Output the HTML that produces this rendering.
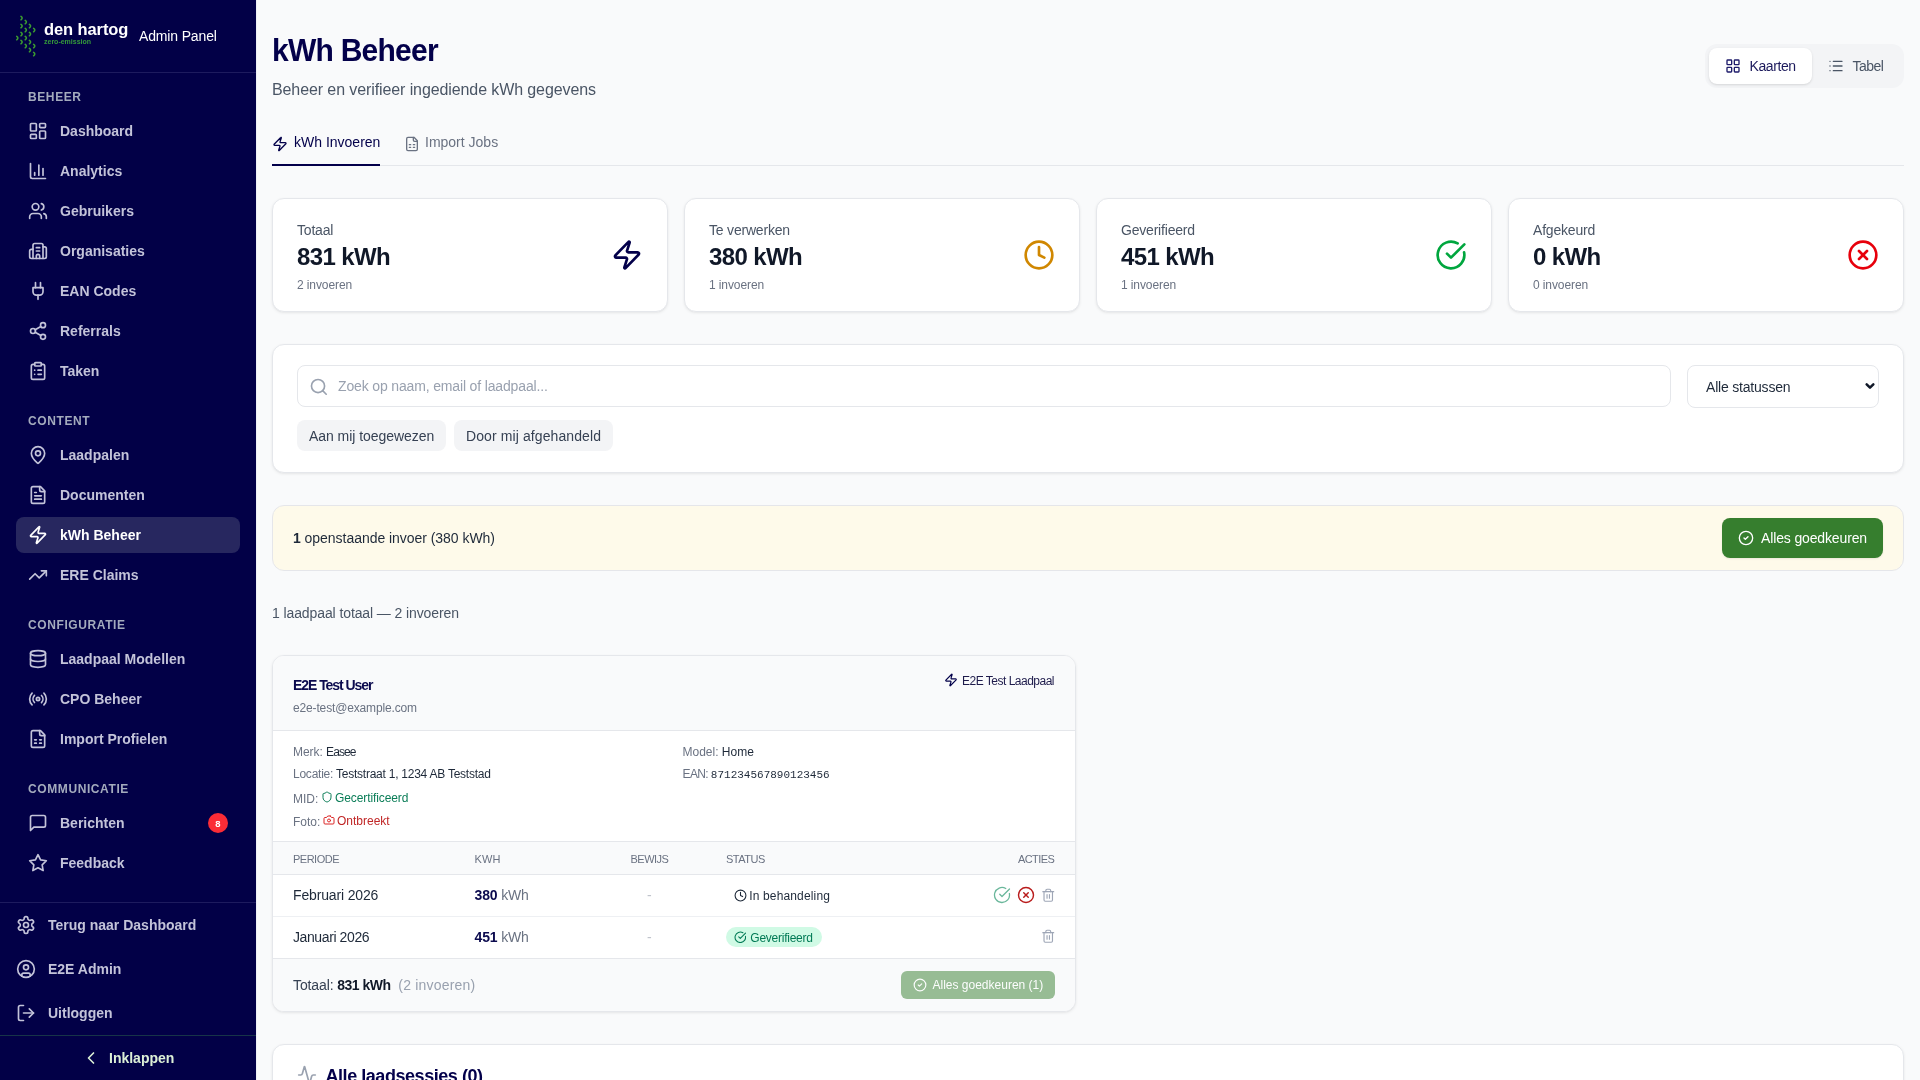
<!DOCTYPE html>
<html lang="nl">
<head>
<meta charset="utf-8">
<title>kWh Beheer - Admin Panel</title>
<style>
*{box-sizing:border-box;margin:0;padding:0}
html,body{width:1920px;height:1080px;overflow:hidden}
body{background:#f9fafb;font-family:"Liberation Sans",Arial,sans-serif;color:#111827;position:relative}
svg.i{fill:none;stroke:currentColor;stroke-width:2;stroke-linecap:round;stroke-linejoin:round;display:block}
.abs{position:absolute}
/* sidebar */
#sb{position:absolute;left:0;top:0;width:257px;height:1080px;background:#020047;border-right:1px solid #eef0f5}
#sb .logo{position:absolute;left:0;top:0;width:256px;height:73px;border-bottom:1px solid #1d1b5e}
#sb .sec{position:absolute;left:28px;font-size:12px;font-weight:700;letter-spacing:0.6px;color:#a4abbd}
#sb .it{position:absolute;left:16px;width:224px;height:36px;border-radius:8px;color:#c3c3d9;font-size:14px;font-weight:700}
#sb .it svg{position:absolute;left:12px;top:8px;width:20px;height:20px}
#sb .it span{position:absolute;left:44px;top:10px;line-height:16px}
#sb .it.act{background:#27275f;color:#fff}
#sb .badge{position:absolute;left:192px;top:8px;width:20px;height:20px;border-radius:10px;background:#fb2c36;color:#fff;font-size:9.5px;font-weight:700;text-align:center;line-height:21px}
#sb .sep2{position:absolute;left:0;top:902px;width:256px;height:1px;background:#1d1b5e}
#sb .it.bt svg{left:0}
#sb .it.bt span{left:32px}
#sb .ink{position:absolute;left:0;top:1036px;width:256px;height:44px;color:#dcefd6;font-size:14px;font-weight:700}
#sb .ink svg{position:absolute;left:81px;top:12px;width:20px;height:20px}
#sb .ink span{position:absolute;left:109px;top:14px;line-height:16px}
#sb .sep3{position:absolute;left:0;top:1035px;width:256px;height:1px;background:#173448}
.t{white-space:nowrap}
#main{position:absolute;left:0;top:0;width:1920px;height:1080px;will-change:transform}
#sb{will-change:transform}
.card{background:#fff;border:1px solid #e5e7eb;border-radius:12px;box-shadow:0 1px 3px rgba(0,0,0,0.08),0 1px 2px -1px rgba(0,0,0,0.06)}
.lbl{color:#6a7282}
.mono{font-family:"Liberation Mono",monospace}
</style>
</head>
<body>
<div id="sb">
  <div class="logo">
    <svg class="abs" style="left:14px;top:14px" width="24" height="44" viewBox="0 0 24 44" fill="none" stroke="#3b9b30" stroke-width="1.55" stroke-linecap="round" stroke-linejoin="round">
      <path d="M6.96 2.40Q9.36 4.10 6.96 5.80M11.20 6.40Q13.60 8.10 11.20 9.80M6.96 10.40Q9.36 12.10 6.96 13.80M15.40 10.40Q17.80 12.10 15.40 13.80M11.20 14.40Q13.60 16.10 11.20 17.80M19.60 14.40Q22.00 16.10 19.60 17.80M6.96 18.40Q9.36 20.10 6.96 21.80M15.40 18.40Q17.80 20.10 15.40 21.80M2.70 22.40Q5.10 24.10 2.70 25.80M11.20 22.40Q13.60 24.10 11.20 25.80M6.96 26.40Q9.36 28.10 6.96 29.80M15.40 26.40Q17.80 28.10 15.40 29.80M11.20 30.40Q13.60 32.10 11.20 33.80M19.60 30.40Q22.00 32.10 19.60 33.80M15.40 34.40Q17.80 36.10 15.40 37.80M19.60 38.40Q22.00 40.10 19.60 41.80"/>
    </svg>
    <div class="abs" style="left:44px;top:20px;font-size:16.5px;font-weight:700;color:#fff;letter-spacing:-0.1px;line-height:18px">den hartog</div>
    <div class="abs" style="left:44px;top:38px;font-size:7px;font-weight:700;color:#35993a;line-height:8px">zero-emission</div>
    <div class="abs" style="left:139px;top:28px;font-size:14px;color:#fff;line-height:16px;letter-spacing:-0.15px">Admin Panel</div>
  </div>
  <div class="sec" style="top:90px">BEHEER</div>
  <div class="sec" style="top:414px">CONTENT</div>
  <div class="sec" style="top:618px">CONFIGURATIE</div>
  <div class="sec" style="top:782px">COMMUNICATIE</div>
  <div class="it" style="top:113px"><svg class="i" viewBox="0 0 24 24"><rect width="7" height="9" x="3" y="3" rx="1"/><rect width="7" height="5" x="14" y="3" rx="1"/><rect width="7" height="9" x="14" y="12" rx="1"/><rect width="7" height="5" x="3" y="16" rx="1"/></svg><span>Dashboard</span></div>
  <div class="it" style="top:153px"><svg class="i" viewBox="0 0 24 24"><path d="M3 3v16a2 2 0 0 0 2 2h16"/><path d="M18 17V9"/><path d="M13 17V5"/><path d="M8 17v-3"/></svg><span>Analytics</span></div>
  <div class="it" style="top:193px"><svg class="i" viewBox="0 0 24 24"><path d="M16 21v-2a4 4 0 0 0-4-4H6a4 4 0 0 0-4 4v2"/><circle cx="9" cy="7" r="4"/><path d="M22 21v-2a4 4 0 0 0-3-3.87"/><path d="M16 3.13a4 4 0 0 1 0 7.75"/></svg><span>Gebruikers</span></div>
  <div class="it" style="top:233px"><svg class="i" viewBox="0 0 24 24"><path d="M10 12h4"/><path d="M10 8h4"/><path d="M14 21v-3a2 2 0 0 0-4 0v3"/><path d="M6 10H4a2 2 0 0 0-2 2v7a2 2 0 0 0 2 2h16a2 2 0 0 0 2-2V9a2 2 0 0 0-2-2h-2"/><path d="M6 21V5a2 2 0 0 1 2-2h8a2 2 0 0 1 2 2v16"/></svg><span>Organisaties</span></div>
  <div class="it" style="top:273px"><svg class="i" viewBox="0 0 24 24"><path d="M12 22v-5"/><path d="M9 8V2"/><path d="M15 8V2"/><path d="M18 8v5a4 4 0 0 1-4 4h-4a4 4 0 0 1-4-4V8Z"/></svg><span>EAN Codes</span></div>
  <div class="it" style="top:313px"><svg class="i" viewBox="0 0 24 24"><circle cx="18" cy="5" r="3"/><circle cx="6" cy="12" r="3"/><circle cx="18" cy="19" r="3"/><line x1="8.59" x2="15.42" y1="13.51" y2="17.49"/><line x1="15.41" x2="8.59" y1="6.51" y2="10.49"/></svg><span>Referrals</span></div>
  <div class="it" style="top:353px"><svg class="i" viewBox="0 0 24 24"><rect width="8" height="4" x="8" y="2" rx="1" ry="1"/><path d="M16 4h2a2 2 0 0 1 2 2v14a2 2 0 0 1-2 2H6a2 2 0 0 1-2-2V6a2 2 0 0 1 2-2h2"/><path d="M12 11h4"/><path d="M12 16h4"/><path d="M8 11h.01"/><path d="M8 16h.01"/></svg><span>Taken</span></div>
  <div class="it" style="top:437px"><svg class="i" viewBox="0 0 24 24"><path d="M20 10c0 4.993-5.539 10.193-7.399 11.799a1 1 0 0 1-1.202 0C9.539 20.193 4 14.993 4 10a8 8 0 0 1 16 0"/><circle cx="12" cy="10" r="3"/></svg><span>Laadpalen</span></div>
  <div class="it" style="top:477px"><svg class="i" viewBox="0 0 24 24"><path d="M15 2H6a2 2 0 0 0-2 2v16a2 2 0 0 0 2 2h12a2 2 0 0 0 2-2V7Z"/><path d="M14 2v4a2 2 0 0 0 2 2h4"/><path d="M10 9H8"/><path d="M16 13H8"/><path d="M16 17H8"/></svg><span>Documenten</span></div>
  <div class="it act" style="top:517px"><svg class="i" viewBox="0 0 24 24"><path d="M4 14a1 1 0 0 1-.78-1.63l9.9-10.2a.5.5 0 0 1 .86.46l-1.92 6.02A1 1 0 0 0 13 10h7a1 1 0 0 1 .78 1.63l-9.9 10.2a.5.5 0 0 1-.86-.46l1.92-6.02A1 1 0 0 0 11 14z"/></svg><span>kWh Beheer</span></div>
  <div class="it" style="top:557px"><svg class="i" viewBox="0 0 24 24"><polyline points="22 7 13.5 15.5 8.5 10.5 2 17"/><polyline points="16 7 22 7 22 13"/></svg><span>ERE Claims</span></div>
  <div class="it" style="top:641px"><svg class="i" viewBox="0 0 24 24"><ellipse cx="12" cy="5" rx="9" ry="3"/><path d="M3 5V19A9 3 0 0 0 21 19V5"/><path d="M3 12A9 3 0 0 0 21 12"/></svg><span>Laadpaal Modellen</span></div>
  <div class="it" style="top:681px"><svg class="i" viewBox="0 0 24 24"><path d="M4.9 19.1C1 15.2 1 8.8 4.9 4.9"/><path d="M7.8 16.2c-2.3-2.3-2.3-6.1 0-8.5"/><circle cx="12" cy="12" r="2"/><path d="M16.2 7.8c2.3 2.3 2.3 6.1 0 8.5"/><path d="M19.1 4.9C23 8.8 23 15.1 19.1 19"/></svg><span>CPO Beheer</span></div>
  <div class="it" style="top:721px"><svg class="i" viewBox="0 0 24 24"><path d="M15 2H6a2 2 0 0 0-2 2v16a2 2 0 0 0 2 2h12a2 2 0 0 0 2-2V7Z"/><path d="M14 2v4a2 2 0 0 0 2 2h4"/><path d="M8 13h2"/><path d="M14 13h2"/><path d="M8 17h2"/><path d="M14 17h2"/></svg><span>Import Profielen</span></div>
  <div class="it" style="top:805px"><svg class="i" viewBox="0 0 24 24"><path d="M21 15a2 2 0 0 1-2 2H7l-4 4V5a2 2 0 0 1 2-2h14a2 2 0 0 1 2 2z"/></svg><span>Berichten</span><div class="badge">8</div></div>
  <div class="it" style="top:845px"><svg class="i" viewBox="0 0 24 24"><polygon points="12 2 15.09 8.26 22 9.27 17 14.14 18.18 21.02 12 17.77 5.82 21.02 7 14.14 2 9.27 8.91 8.26 12 2"/></svg><span>Feedback</span></div>
  <div class="sep2"></div>
  <div class="it bt" style="top:907px"><svg class="i" viewBox="0 0 24 24"><path d="M12.22 2h-.44a2 2 0 0 0-2 2v.18a2 2 0 0 1-1 1.73l-.43.25a2 2 0 0 1-2 0l-.15-.08a2 2 0 0 0-2.73.73l-.22.38a2 2 0 0 0 .73 2.730l.15.1a2 2 0 0 1 1 1.72v.51a2 2 0 0 1-1 1.74l-.15.09a2 2 0 0 0-.73 2.73l.22.38a2 2 0 0 0 2.73.73l.15-.08a2 2 0 0 1 2 0l.43.25a2 2 0 0 1 1 1.73V20a2 2 0 0 0 2 2h.44a2 2 0 0 0 2-2v-.18a2 2 0 0 1 1-1.73l.43-.25a2 2 0 0 1 2 0l.15.08a2 2 0 0 0 2.73-.73l.22-.39a2 2 0 0 0-.73-2.73l-.15-.08a2 2 0 0 1-1-1.74v-.5a2 2 0 0 1 1-1.74l.15-.09a2 2 0 0 0 .73-2.73l-.22-.38a2 2 0 0 0-2.73-.73l-.15.08a2 2 0 0 1-2 0l-.43-.25a2 2 0 0 1-1-1.73V4a2 2 0 0 0-2-2z"/><circle cx="12" cy="12" r="3"/></svg><span>Terug naar Dashboard</span></div>
  <div class="it bt" style="top:951px"><svg class="i" viewBox="0 0 24 24"><circle cx="12" cy="12" r="10"/><circle cx="12" cy="10" r="3"/><path d="M7 20.662V19a2 2 0 0 1 2-2h6a2 2 0 0 1 2 2v1.662"/></svg><span>E2E Admin</span></div>
  <div class="it bt" style="top:995px"><svg class="i" viewBox="0 0 24 24"><path d="M9 21H5a2 2 0 0 1-2-2V5a2 2 0 0 1 2-2h4"/><polyline points="16 17 21 12 16 7"/><line x1="21" x2="9" y1="12" y2="12"/></svg><span>Uitloggen</span></div>
  <div class="sep3"></div>
  <div class="ink"><svg class="i" viewBox="0 0 24 24"><path d="m15 18-6-6 6-6"/></svg><span>Inklappen</span></div>
</div>
<div id="main">
<div class="t abs" style="left:272px;top:33.0px;font-size:31.3px;line-height:36px;color:#03004a;font-weight:700;letter-spacing:-0.78px;transform:scaleX(0.9585);transform-origin:0 0;">kWh Beheer</div>
<div class="t abs" style="left:272px;top:78.0px;font-size:16px;line-height:24px;color:#4a5565;font-weight:400;letter-spacing:-0.1px;">Beheer en verifieer ingediende kWh gegevens</div>
<div class="abs" style="left:1705px;top:44px;width:199px;height:44px;border-radius:12px;background:#f3f4f6"></div>
<div class="abs" style="left:1709px;top:48px;width:103px;height:36px;border-radius:8px;background:#fff;box-shadow:0 1px 3px rgba(0,0,0,0.1),0 1px 2px -1px rgba(0,0,0,0.1)"></div>
<svg class="i abs" style="left:1725px;top:58px;width:16px;height:16px;stroke-width:2;color:#1e1b6b;" viewBox="0 0 24 24"><rect width="7" height="7" x="3" y="3" rx="1"/><rect width="7" height="7" x="14" y="3" rx="1"/><rect width="7" height="7" x="14" y="14" rx="1"/><rect width="7" height="7" x="3" y="14" rx="1"/></svg>
<div class="t abs" style="left:1749.5px;top:55.5px;font-size:14px;line-height:21px;color:#1c1a5c;font-weight:400;letter-spacing:-0.4px;">Kaarten</div>
<svg class="i abs" style="left:1828px;top:58px;width:16px;height:16px;stroke-width:2;color:#4a5565;" viewBox="0 0 24 24"><path d="M3 5h.01"/><path d="M3 12h.01"/><path d="M3 19h.01"/><path d="M8 5h13"/><path d="M8 12h13"/><path d="M8 19h13"/></svg>
<div class="t abs" style="left:1852.5px;top:55.5px;font-size:14px;line-height:21px;color:#4a5565;font-weight:400;letter-spacing:-0.5px;">Tabel</div>
<div class="abs" style="left:272px;top:165px;width:1632px;height:1px;background:#e5e7eb"></div>
<div class="abs" style="left:272px;top:164px;width:108px;height:2px;background:#03004a"></div>
<svg class="i abs" style="left:272px;top:135.8px;width:16px;height:16px;stroke-width:2;color:#03004a;" viewBox="0 0 24 24"><path d="M4 14a1 1 0 0 1-.78-1.63l9.9-10.2a.5.5 0 0 1 .86.46l-1.92 6.02A1 1 0 0 0 13 10h7a1 1 0 0 1 .78 1.63l-9.9 10.2a.5.5 0 0 1-.86-.46l1.92-6.02A1 1 0 0 0 11 14z"/></svg>
<div class="t abs" style="left:294px;top:132.0px;font-size:14px;line-height:21px;color:#03004a;font-weight:500;">kWh Invoeren</div>
<svg class="i abs" style="left:404px;top:136px;width:16px;height:16px;stroke-width:2;color:#6a7282;" viewBox="0 0 24 24"><path d="M15 2H6a2 2 0 0 0-2 2v16a2 2 0 0 0 2 2h12a2 2 0 0 0 2-2V7Z"/><path d="M14 2v4a2 2 0 0 0 2 2h4"/><path d="M8 13h2"/><path d="M14 13h2"/><path d="M8 17h2"/><path d="M14 17h2"/></svg>
<div class="t abs" style="left:425px;top:132.0px;font-size:14px;line-height:21px;color:#6a7282;font-weight:400;">Import Jobs</div>
<div class="card abs" style="left:272px;top:198px;width:396px;height:114px"></div>
<div class="t abs" style="left:297px;top:219.8px;font-size:14px;line-height:21px;color:#4a5565;font-weight:400;letter-spacing:-0.2px;">Totaal</div>
<div class="t abs" style="left:297px;top:241.2px;font-size:24px;line-height:32px;color:#101828;font-weight:700;letter-spacing:-0.6px;">831 kWh</div>
<div class="t abs" style="left:297px;top:276.7px;font-size:12px;line-height:16px;color:#6a7282;font-weight:400;letter-spacing:-0.1px;">2 invoeren</div>
<svg class="i abs" style="left:611px;top:239px;width:32px;height:32px;stroke-width:2;color:#03004a;" viewBox="0 0 24 24"><path d="M4 14a1 1 0 0 1-.78-1.63l9.9-10.2a.5.5 0 0 1 .86.46l-1.92 6.02A1 1 0 0 0 13 10h7a1 1 0 0 1 .78 1.63l-9.9 10.2a.5.5 0 0 1-.86-.46l1.92-6.02A1 1 0 0 0 11 14z"/></svg>
<div class="card abs" style="left:684px;top:198px;width:396px;height:114px"></div>
<div class="t abs" style="left:709px;top:219.8px;font-size:14px;line-height:21px;color:#4a5565;font-weight:400;letter-spacing:-0.2px;">Te verwerken</div>
<div class="t abs" style="left:709px;top:241.2px;font-size:24px;line-height:32px;color:#101828;font-weight:700;letter-spacing:-0.6px;">380 kWh</div>
<div class="t abs" style="left:709px;top:276.7px;font-size:12px;line-height:16px;color:#6a7282;font-weight:400;letter-spacing:-0.1px;">1 invoeren</div>
<svg class="i abs" style="left:1023px;top:239px;width:32px;height:32px;stroke-width:2;color:#d08700;" viewBox="0 0 24 24"><circle cx="12" cy="12" r="10"/><polyline points="12 6 12 12 16 14"/></svg>
<div class="card abs" style="left:1096px;top:198px;width:396px;height:114px"></div>
<div class="t abs" style="left:1121px;top:219.8px;font-size:14px;line-height:21px;color:#4a5565;font-weight:400;letter-spacing:-0.2px;">Geverifieerd</div>
<div class="t abs" style="left:1121px;top:241.2px;font-size:24px;line-height:32px;color:#101828;font-weight:700;letter-spacing:-0.6px;">451 kWh</div>
<div class="t abs" style="left:1121px;top:276.7px;font-size:12px;line-height:16px;color:#6a7282;font-weight:400;letter-spacing:-0.1px;">1 invoeren</div>
<svg class="i abs" style="left:1435px;top:239px;width:32px;height:32px;stroke-width:2;color:#00a63e;" viewBox="0 0 24 24"><path d="M21.801 10A10 10 0 1 1 17 3.335"/><path d="m9 11 3 3L22 4"/></svg>
<div class="card abs" style="left:1508px;top:198px;width:396px;height:114px"></div>
<div class="t abs" style="left:1533px;top:219.8px;font-size:14px;line-height:21px;color:#4a5565;font-weight:400;letter-spacing:-0.2px;">Afgekeurd</div>
<div class="t abs" style="left:1533px;top:241.2px;font-size:24px;line-height:32px;color:#101828;font-weight:700;letter-spacing:-0.6px;">0 kWh</div>
<div class="t abs" style="left:1533px;top:276.7px;font-size:12px;line-height:16px;color:#6a7282;font-weight:400;letter-spacing:-0.1px;">0 invoeren</div>
<svg class="i abs" style="left:1847px;top:239px;width:32px;height:32px;stroke-width:2;color:#e7000b;" viewBox="0 0 24 24"><circle cx="12" cy="12" r="10"/><path d="m15 9-6 6"/><path d="m9 9 6 6"/></svg>
<div class="card abs" style="left:272px;top:344px;width:1632px;height:129px"></div>
<div class="abs" style="left:297px;top:365px;width:1374px;height:42px;border:1px solid #e5e7eb;border-radius:8px;background:#fff"></div>
<svg class="i abs" style="left:309.2px;top:377.3px;width:19.7px;height:19.7px;stroke-width:2;color:#99a1af;" viewBox="0 0 24 24"><circle cx="11" cy="11" r="8"/><path d="m21 21-4.3-4.3"/></svg>
<div class="t abs" style="left:338px;top:376.1px;font-size:14px;line-height:21px;color:#99a1af;font-weight:400;letter-spacing:-0.15px;">Zoek op naam, email of laadpaal...</div>
<div class="abs" style="left:1687px;top:365px;width:192px;height:43px;border:1px solid #e5e7eb;border-radius:8px;background:#fff"></div>
<div class="t abs" style="left:1706px;top:376.5px;font-size:14px;line-height:21px;color:#1e2939;font-weight:400;letter-spacing:-0.2px;">Alle statussen</div>
<svg class="i abs" style="left:1862px;top:378.3px;width:16px;height:16px;stroke-width:3.8;color:#101828;" viewBox="0 0 24 24"><path d="m7 9.5 5 5 5-5"/></svg>
<div class="abs" style="left:297px;top:420px;width:149px;height:31px;border-radius:8px;background:#f3f4f6"></div>
<div class="t abs" style="left:309px;top:425.5px;font-size:14px;line-height:21px;color:#364153;font-weight:400;letter-spacing:-0.05px;">Aan mij toegewezen</div>
<div class="abs" style="left:454px;top:420px;width:159px;height:31px;border-radius:8px;background:#f3f4f6"></div>
<div class="t abs" style="left:466px;top:425.5px;font-size:14px;line-height:21px;color:#364153;font-weight:400;letter-spacing:0.1px;">Door mij afgehandeld</div>
<div class="abs" style="left:272px;top:505px;width:1632px;height:66px;border:1px solid #e5e6ea;border-radius:12px;background:#fefaea"></div>
<div class="t abs" style="left:293px;top:527.5px;font-size:14px;line-height:21px;color:#1e2939;font-weight:400;letter-spacing:-0.04px;"><b>1</b> openstaande invoer (380 kWh)</div>
<div class="abs" style="left:1722px;top:518px;width:161px;height:40px;border-radius:8px;background:#367e2e;box-shadow:0 1px 2px rgba(0,0,0,0.08)"></div>
<svg class="i abs" style="left:1738px;top:530px;width:16px;height:16px;stroke-width:2;color:#fff;" viewBox="0 0 24 24"><circle cx="12" cy="12" r="10"/><path d="m9 12 2 2 4-4"/></svg>
<div class="t abs" style="left:1761px;top:527.5px;font-size:14px;line-height:21px;color:#fff;font-weight:500;letter-spacing:-0.14px;">Alles goedkeuren</div>
<div class="t abs" style="left:272px;top:603.0px;font-size:14px;line-height:21px;color:#4a5565;font-weight:400;letter-spacing:-0.1px;">1 laadpaal totaal — 2 invoeren</div>
<div class="card abs" style="left:272px;top:655px;width:804px;height:357px;overflow:hidden"><div class="abs" style="left:0;top:0;width:802px;height:75px;background:#f9fafb;border-bottom:1px solid #e5e7eb"></div><div class="abs" style="left:0;top:185px;width:802px;height:34px;background:#f9fafb;border-top:1px solid #e5e7eb;border-bottom:1px solid #e5e7eb"></div><div class="abs" style="left:0;top:260px;width:802px;height:1px;background:#eef0f3"></div><div class="abs" style="left:0;top:302px;width:802px;height:54px;background:#f9fafb;border-top:1px solid #e5e7eb"></div></div>
<div class="t abs" style="left:293px;top:675.0px;font-size:14px;line-height:21px;color:#0b0a4e;font-weight:700;letter-spacing:-1.05px;">E2E Test User</div>
<div class="t abs" style="left:293px;top:699.5px;font-size:12px;line-height:16px;color:#6a7282;font-weight:400;letter-spacing:-0.15px;">e2e-test@example.com</div>
<svg class="i abs" style="left:943.9px;top:673.2px;width:14px;height:14px;stroke-width:2;color:#03004a;" viewBox="0 0 24 24"><path d="M4 14a1 1 0 0 1-.78-1.63l9.9-10.2a.5.5 0 0 1 .86.46l-1.92 6.02A1 1 0 0 0 13 10h7a1 1 0 0 1 .78 1.63l-9.9 10.2a.5.5 0 0 1-.86-.46l1.92-6.02A1 1 0 0 0 11 14z"/></svg>
<div class="t abs" style="left:962px;top:673.0px;font-size:12px;line-height:16px;color:#1e1b4b;font-weight:500;letter-spacing:-0.5px;">E2E Test Laadpaal</div>
<div class="t abs" style="left:293px;top:744.0px;font-size:12px;line-height:16px;color:#1e2939;font-weight:400;"><span class="lbl" style="letter-spacing:-0.05px">Merk:</span> <span style="letter-spacing:-0.9px">Easee</span></div>
<div class="t abs" style="left:293px;top:766.0px;font-size:12px;line-height:16px;color:#1e2939;font-weight:400;letter-spacing:-0.24px;"><span class="lbl">Locatie:</span> Teststraat 1, 1234 AB Teststad</div>
<div class="t abs" style="left:293px;top:790.5px;font-size:12px;line-height:16px;color:#1e2939;font-weight:400;"><span class="lbl">MID:</span></div>
<svg class="i abs" style="left:320.5px;top:791px;width:12px;height:12px;stroke-width:2;color:#0a7d57;" viewBox="0 0 24 24"><path d="M20 13c0 5-3.5 7.5-7.66 8.95a1 1 0 0 1-.67-.01C7.5 20.5 4 18 4 13V6a1 1 0 0 1 1-1c2 0 4.5-1.2 6.24-2.72a1.17 1.17 0 0 1 1.52 0C14.51 3.81 17 5 19 5a1 1 0 0 1 1 1z"/></svg>
<div class="t abs" style="left:335px;top:790.3px;font-size:12px;line-height:16px;color:#0a7d57;font-weight:400;letter-spacing:-0.1px;">Gecertificeerd</div>
<div class="t abs" style="left:293px;top:813.5px;font-size:12px;line-height:16px;color:#1e2939;font-weight:400;"><span class="lbl">Foto:</span></div>
<svg class="i abs" style="left:322.5px;top:814px;width:12px;height:12px;stroke-width:2;color:#dc2626;" viewBox="0 0 24 24"><path d="M14.5 4h-5L7 7H4a2 2 0 0 0-2 2v9a2 2 0 0 0 2 2h16a2 2 0 0 0 2-2V9a2 2 0 0 0-2-2h-3l-2.5-3z"/><circle cx="12" cy="13" r="3"/></svg>
<div class="t abs" style="left:337px;top:813.0px;font-size:12px;line-height:16px;color:#c02626;font-weight:400;">Ontbreekt</div>
<div class="t abs" style="left:682.5px;top:744.0px;font-size:12px;line-height:16px;color:#1e2939;font-weight:400;"><span class="lbl">Model:</span> Home</div>
<div class="t abs" style="left:682.5px;top:766.0px;font-size:12px;line-height:16px;color:#1e2939;font-weight:400;"><span class="lbl" style="letter-spacing:-0.6px">EAN: </span><span class="mono" style="font-size:11px">871234567890123456</span></div>
<div class="t abs" style="left:293px;top:851.0px;font-size:11px;line-height:16px;color:#6a7282;font-weight:400;letter-spacing:-0.5px;">PERIODE</div>
<div class="t abs" style="left:474.5px;top:851.0px;font-size:11px;line-height:16px;color:#6a7282;font-weight:400;letter-spacing:0.2px;">KWH</div>
<div class="t abs" style="left:630.5px;top:851.0px;font-size:11px;line-height:16px;color:#6a7282;font-weight:400;letter-spacing:-0.5px;">BEWIJS</div>
<div class="t abs" style="left:726px;top:851.0px;font-size:11px;line-height:16px;color:#6a7282;font-weight:400;letter-spacing:-0.5px;">STATUS</div>
<div class="t abs" style="left:1018px;top:851.0px;font-size:11px;line-height:16px;color:#6a7282;font-weight:400;letter-spacing:-0.6px;">ACTIES</div>
<div class="t abs" style="left:293px;top:884.5px;font-size:14px;line-height:21px;color:#1e2939;font-weight:400;letter-spacing:-0.15px;">Februari 2026</div>
<div class="t abs" style="left:474.5px;top:884.5px;font-size:14px;line-height:21px;color:#1e2939;font-weight:400;letter-spacing:-0.15px;"><b style="color:#0b0a4e">380</b> <span style="color:#6a7282">kWh</span></div>
<div class="t abs" style="left:647px;top:884.5px;font-size:14px;line-height:21px;color:#c0c4cc;font-weight:400;">-</div>
<svg class="i abs" style="left:733.6px;top:888.5px;width:13px;height:13px;stroke-width:2;color:#1e2939;" viewBox="0 0 24 24"><circle cx="12" cy="12" r="10"/><polyline points="12 6 12 12 16 14"/></svg>
<div class="t abs" style="left:749.2px;top:887.5px;font-size:12px;line-height:16px;color:#1e2939;font-weight:500;letter-spacing:0.15px;">In behandeling</div>
<svg class="i abs" style="left:993px;top:885.8px;width:18px;height:18px;stroke-width:1.7;color:#6ab79b;" viewBox="0 0 24 24"><path d="M21.801 10A10 10 0 1 1 17 3.335"/><path d="m9 11 3 3L22 4"/></svg>
<svg class="i abs" style="left:1017px;top:885.8px;width:18px;height:18px;stroke-width:1.9;color:#b91c1c;" viewBox="0 0 24 24"><circle cx="12" cy="12" r="10"/><path d="m15 9-6 6"/><path d="m9 9 6 6"/></svg>
<svg class="i abs" style="left:1040.8px;top:887.5px;width:14.5px;height:14.5px;stroke-width:1.9;color:#9ea6b6;" viewBox="0 0 24 24"><path d="M3 6h18"/><path d="M19 6v14c0 1-1 2-2 2H7c-1 0-2-1-2-2V6"/><path d="M8 6V4c0-1 1-2 2-2h4c1 0 2 1 2 2v2"/><line x1="10" x2="10" y1="11" y2="17"/><line x1="14" x2="14" y1="11" y2="17"/></svg>
<div class="t abs" style="left:293px;top:926.5px;font-size:14px;line-height:21px;color:#1e2939;font-weight:400;letter-spacing:-0.4px;">Januari 2026</div>
<div class="t abs" style="left:474.5px;top:926.5px;font-size:14px;line-height:21px;color:#1e2939;font-weight:400;letter-spacing:-0.15px;"><b style="color:#0b0a4e">451</b> <span style="color:#6a7282">kWh</span></div>
<div class="t abs" style="left:647px;top:926.5px;font-size:14px;line-height:21px;color:#c0c4cc;font-weight:400;">-</div>
<div class="abs" style="left:726px;top:927px;width:96px;height:20px;border-radius:10px;background:#d0fae5"></div>
<svg class="i abs" style="left:733.7px;top:930.8px;width:12.6px;height:12.6px;stroke-width:2;color:#007a55;" viewBox="0 0 24 24"><path d="M21.801 10A10 10 0 1 1 17 3.335"/><path d="m9 11 3 3L22 4"/></svg>
<div class="t abs" style="left:750.3px;top:930.1px;font-size:12px;line-height:16px;color:#007a55;font-weight:500;letter-spacing:-0.25px;">Geverifieerd</div>
<svg class="i abs" style="left:1040.8px;top:929.3px;width:14.5px;height:14.5px;stroke-width:1.9;color:#9ea6b6;" viewBox="0 0 24 24"><path d="M3 6h18"/><path d="M19 6v14c0 1-1 2-2 2H7c-1 0-2-1-2-2V6"/><path d="M8 6V4c0-1 1-2 2-2h4c1 0 2 1 2 2v2"/><line x1="10" x2="10" y1="11" y2="17"/><line x1="14" x2="14" y1="11" y2="17"/></svg>
<div class="t abs" style="left:293px;top:975.0px;font-size:14px;line-height:21px;color:#364153;font-weight:400;letter-spacing:-0.12px;">Totaal: <b style="color:#101828;letter-spacing:-0.5px">831 kWh</b> <span style="color:#99a1af;margin-left:4px;letter-spacing:0.2px">(2 invoeren)</span></div>
<div class="abs" style="left:901px;top:971px;width:154px;height:28px;opacity:0.5"><div class="abs" style="left:0;top:0;width:154px;height:28px;border-radius:6px;background:#367e2e"></div><svg class="i abs" style="left:11.5px;top:7px;width:14px;height:14px;stroke-width:2;color:#fff;" viewBox="0 0 24 24"><circle cx="12" cy="12" r="10"/><path d="m9 12 2 2 4-4"/></svg><div class="t abs" style="left:31.5px;top:6.0px;font-size:12px;line-height:16px;color:#fff;font-weight:500;">Alles goedkeuren (1)</div></div>
<div class="card abs" style="left:272px;top:1044px;width:1632px;height:80px"></div>
<svg class="i abs" style="left:297px;top:1065px;width:20px;height:20px;stroke-width:2;color:#99a1af;" viewBox="0 0 24 24"><path d="M22 12h-2.48a2 2 0 0 0-1.93 1.46l-2.35 8.36a.25.25 0 0 1-.48 0L9.24 2.18a.25.25 0 0 0-.48 0l-2.35 8.36A2 2 0 0 1 4.49 12H2"/></svg>
<div class="t abs" style="left:325.5px;top:1061.5px;font-size:18px;line-height:28px;color:#03004a;font-weight:700;letter-spacing:-0.45px;">Alle laadsessies (0)</div>
</div>
</body>
</html>
